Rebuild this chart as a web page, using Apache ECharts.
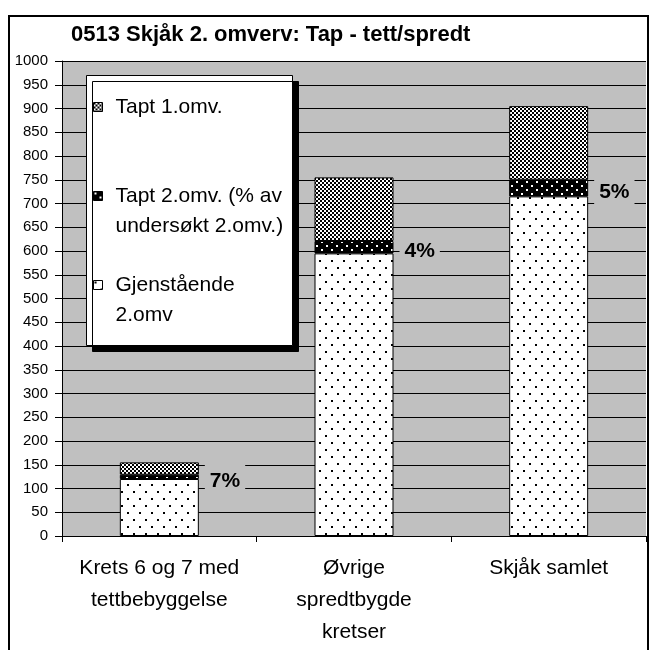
<!DOCTYPE html>
<html><head><meta charset="utf-8">
<script src="https://cdn.jsdelivr.net/npm/echarts@6/dist/echarts.min.js"></script>
<style>html,body{margin:0;padding:0;background:#fff}#c{width:650px;height:650px}</style>
</head><body><div id="c"></div>
<script>
// ---- data ----
const categories = ['Krets 6 og 7 med\ntettbebyggelse', 'Øvrige\nspredtbygde\nkretser', 'Skjåk samlet'];
const seriesNames = ['Gjenstående 2.omv', 'Tapt 2.omv. (% av undersøkt 2.omv.)', 'Tapt 1.omv.'];
const gjenstaende = [120, 595, 715];
const tapt2 = [9, 26, 35];
const tapt1 = [26, 134, 155];
const pctLabels = ['7%', '4%', '5%'];
const legendLines = {
  'Tapt 1.omv.': ['Tapt 1.omv.'],
  'Tapt 2.omv. (% av undersøkt 2.omv.)': ['Tapt 2.omv. (% av', 'undersøkt 2.omv.)'],
  'Gjenstående 2.omv': ['Gjenstående', '2.omv']
};
const titleText = '0513 Skjåk 2. omverv: Tap - tett/spredt';

// ---- styling helpers ----
const FF = '"Liberation Sans", Arial, sans-serif';
function pattern(w, h, bg, fg, cells) {
  const c = document.createElement('canvas');
  c.width = w; c.height = h;
  const x = c.getContext('2d');
  x.fillStyle = bg; x.fillRect(0, 0, w, h);
  x.fillStyle = fg;
  cells.forEach(([a, b, s]) => x.fillRect(a, b, s, s));
  return { image: c, repeat: 'repeat' };
}
const patGjen = pattern(12, 14, '#fff', '#000', [[1, 1, 2], [7, 8, 2]]);
const patT2 = pattern(10, 8, '#000', '#fff', [[1, 1, 2], [6, 5, 2]]);
const patT1 = pattern(4, 4, '#fff', '#000', [[0, 0, 2], [2, 2, 2]]);

const chart = echarts.init(document.getElementById('c'), null, { renderer: 'canvas' });
const barBase = { type: 'bar', stack: 'tot', barWidth: 79 };

chart.setOption({
  animation: false,
  backgroundColor: '#fff',
  title: {
    text: titleText, left: 71, top: 24, padding: 0,
    textStyle: { fontFamily: FF, fontSize: 22, fontWeight: 'bold', color: '#000' }
  },
  grid: { left: 62, right: 4, top: 61, bottom: 114, show: true, backgroundColor: '#c0c0c0', borderWidth: 0 },
  legend: {
    orient: 'vertical', left: 93, top: 62, padding: 0, itemGap: -1,
    itemWidth: 9, itemHeight: 9, icon: 'rect', selectedMode: false,
    data: [seriesNames[2], seriesNames[1], seriesNames[0]],
    formatter: n => {
      const l = legendLines[n];
      return l.length === 1 ? '\n' + l[0] + '\n' : '\n' + l.join('\n');
    },
    textStyle: { fontFamily: FF, fontSize: 21, lineHeight: 30, color: '#000', padding: [0, 0, 0, 8] },
    itemStyle: { borderColor: '#000', borderWidth: 1 }
  },
  xAxis: {
    type: 'category', data: categories,
    axisLine: { lineStyle: { color: '#000', width: 1 } },
    axisTick: { show: true, alignWithLabel: false, length: 6, lineStyle: { color: '#000' } },
    axisLabel: { fontFamily: FF, fontSize: 21, lineHeight: 32, color: '#000', margin: 16, interval: 0 },
    splitLine: { show: false }
  },
  yAxis: {
    type: 'value', min: 0, max: 1000, interval: 50,
    axisLine: { show: true, lineStyle: { color: '#000', width: 1 } },
    axisTick: { show: true, length: 7, lineStyle: { color: '#000' } },
    axisLabel: { fontFamily: FF, fontSize: 15, color: '#000', margin: 14, formatter: v => String(v) },
    splitLine: { show: true, lineStyle: { color: '#000', width: 1 } }
  },
  graphic: [
    { type: 'rect', silent: true, z: 3,
      shape: { x: 86.5, y: 75.5, width: 206, height: 270 },
      style: { fill: '#fff', stroke: '#000', lineWidth: 1, shadowColor: '#000', shadowOffsetX: 6, shadowOffsetY: 6, shadowBlur: 0 } },
    { type: 'rect', silent: true, z: 10,
      shape: { x: 9, y: 16, width: 639, height: 700 },
      style: { fill: 'none', stroke: '#000', lineWidth: 2 } }
  ],
  series: [
    Object.assign({}, barBase, { name: seriesNames[0], data: gjenstaende, itemStyle: { color: patGjen, borderColor: '#000', borderWidth: 1 } }),
    Object.assign({}, barBase, { name: seriesNames[1], data: tapt2, itemStyle: { color: patT2, borderColor: '#000', borderWidth: 1 },
      label: { show: true, position: 'right', distance: 6, offset: [0, 4],
        formatter: p => pctLabels[p.dataIndex],
        fontFamily: FF, fontSize: 21, fontWeight: 'bold', color: '#000',
        backgroundColor: '#c0c0c0', padding: [8, 5] } }),
    Object.assign({}, barBase, { name: seriesNames[2], data: tapt1, itemStyle: { color: patT1, borderColor: '#000', borderWidth: 1 } })
  ]
});
</script></body></html>
